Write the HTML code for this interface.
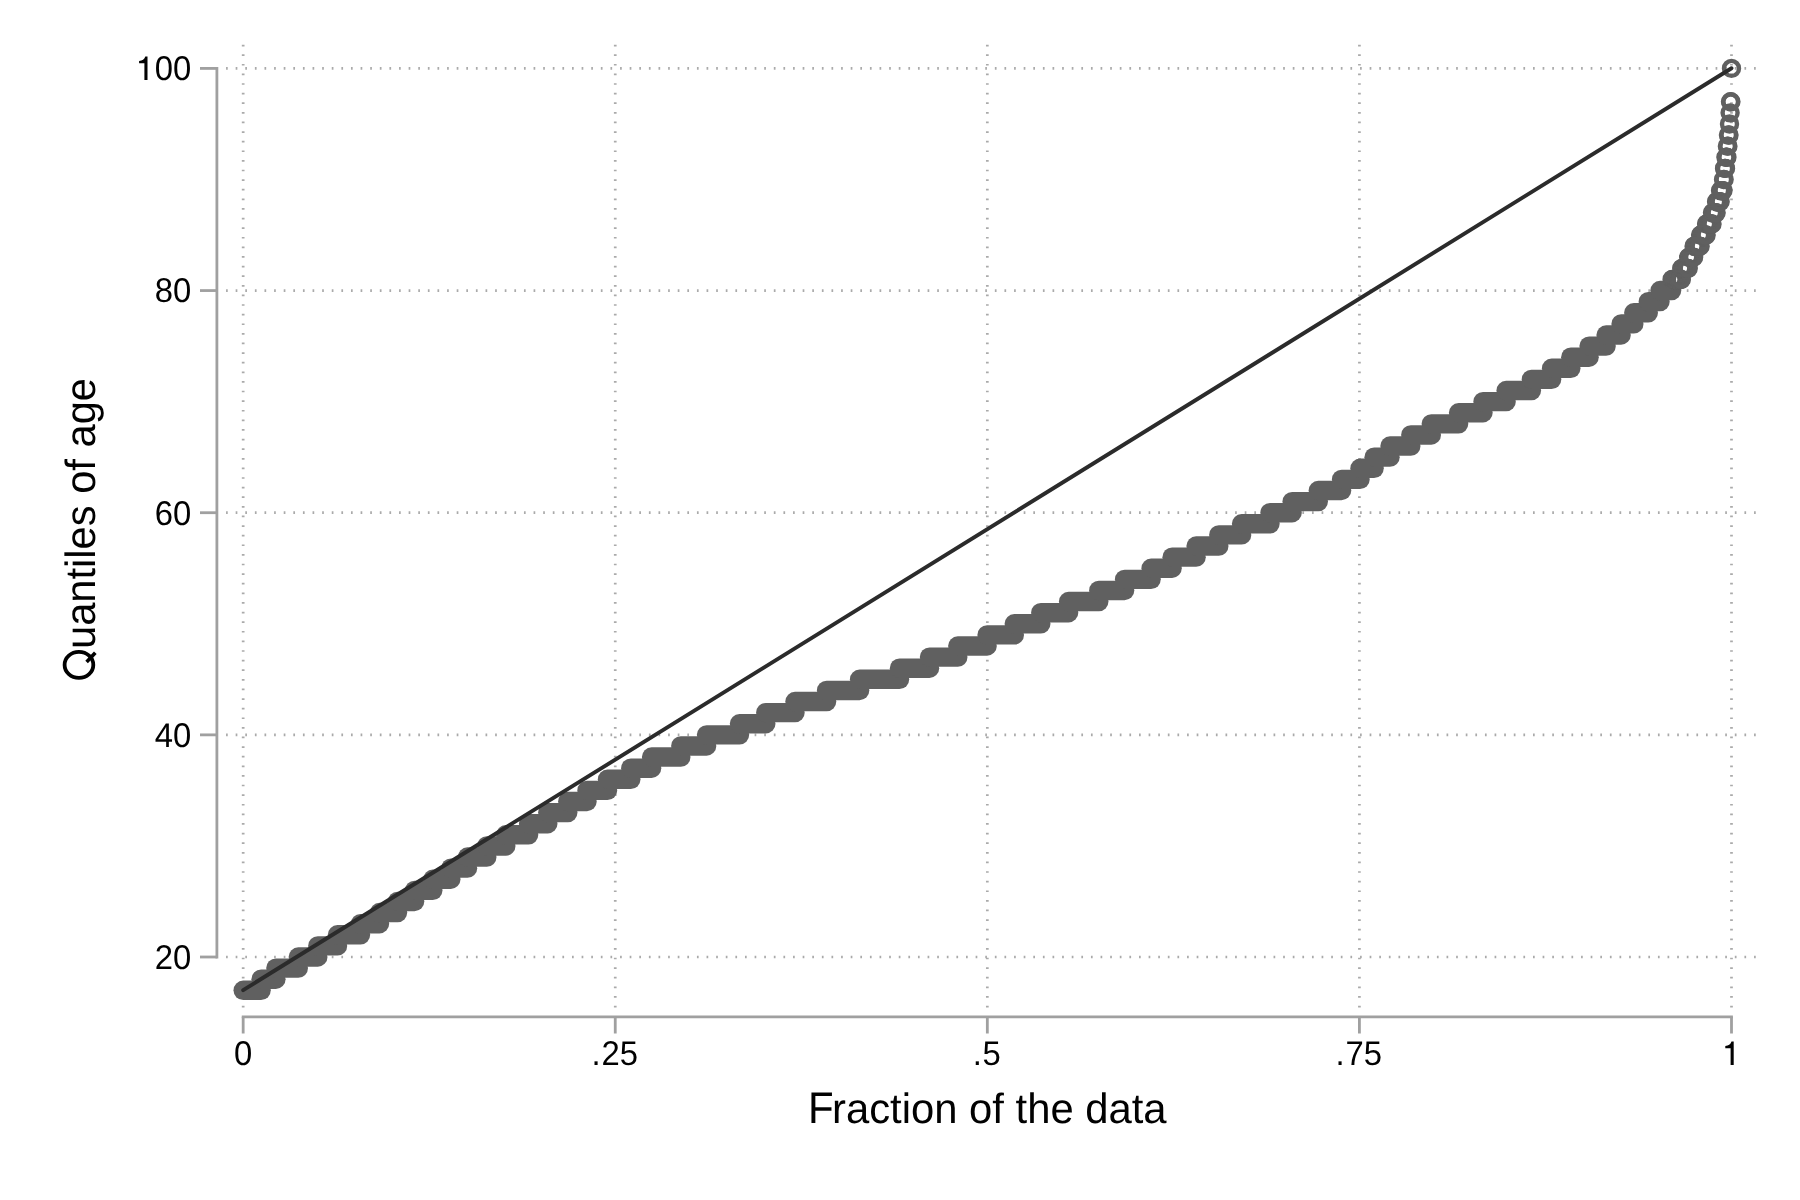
<!DOCTYPE html>
<html><head><meta charset="utf-8"><title>Quantile plot</title>
<style>html,body{margin:0;padding:0;background:#fff;}svg{display:block;}text{font-family:"Liberation Sans",sans-serif;fill:#000;text-rendering:geometricPrecision;}</style>
</head><body>
<svg width="1800" height="1200" viewBox="0 0 1800 1200">
<rect x="0" y="0" width="1800" height="1200" fill="#ffffff"/>
<g stroke="#aaaaaa" stroke-width="2.7" stroke-dasharray="1.7 7.91" fill="none">
<line x1="226.05" y1="957.00" x2="1758" y2="957.00"/>
<line x1="226.05" y1="734.86" x2="1758" y2="734.86"/>
<line x1="226.05" y1="512.71" x2="1758" y2="512.71"/>
<line x1="226.05" y1="290.57" x2="1758" y2="290.57"/>
<line x1="226.05" y1="68.42" x2="1758" y2="68.42"/>
<line x1="243.17" y1="44.7" x2="243.17" y2="1008"/>
<line x1="615.25" y1="44.7" x2="615.25" y2="1008"/>
<line x1="987.33" y1="44.7" x2="987.33" y2="1008"/>
<line x1="1359.42" y1="44.7" x2="1359.42" y2="1008"/>
<line x1="1731.50" y1="44.7" x2="1731.50" y2="1008"/>
</g>
<g stroke="#606060" fill="none" stroke-linecap="round">
<line x1="243.2" y1="990.32" x2="261.1" y2="990.32" stroke-width="19.4"/>
<line x1="261.1" y1="979.21" x2="275.9" y2="979.21" stroke-width="19.4"/>
<line x1="275.9" y1="968.11" x2="298.3" y2="968.11" stroke-width="19.4"/>
<line x1="298.3" y1="957.00" x2="317.8" y2="957.00" stroke-width="19.4"/>
<line x1="317.8" y1="945.89" x2="337.5" y2="945.89" stroke-width="19.4"/>
<line x1="337.5" y1="934.79" x2="360.5" y2="934.79" stroke-width="19.4"/>
<line x1="360.5" y1="923.68" x2="379.5" y2="923.68" stroke-width="19.4"/>
<line x1="379.5" y1="912.57" x2="397.5" y2="912.57" stroke-width="19.4"/>
<line x1="397.5" y1="901.46" x2="414.6" y2="901.46" stroke-width="19.4"/>
<line x1="414.6" y1="890.36" x2="432.8" y2="890.36" stroke-width="19.4"/>
<line x1="432.8" y1="879.25" x2="450.8" y2="879.25" stroke-width="19.4"/>
<line x1="450.8" y1="868.14" x2="467.5" y2="868.14" stroke-width="19.4"/>
<line x1="467.5" y1="857.03" x2="486.8" y2="857.03" stroke-width="19.4"/>
<line x1="486.8" y1="845.93" x2="505.8" y2="845.93" stroke-width="19.4"/>
<line x1="505.8" y1="834.82" x2="528.6" y2="834.82" stroke-width="19.4"/>
<line x1="528.6" y1="823.71" x2="547.8" y2="823.71" stroke-width="19.4"/>
<line x1="547.8" y1="812.61" x2="567.8" y2="812.61" stroke-width="19.4"/>
<line x1="567.8" y1="801.50" x2="587.0" y2="801.50" stroke-width="19.4"/>
<line x1="587.0" y1="790.39" x2="607.5" y2="790.39" stroke-width="19.4"/>
<line x1="607.5" y1="779.28" x2="630.8" y2="779.28" stroke-width="19.4"/>
<line x1="630.8" y1="768.18" x2="651.6" y2="768.18" stroke-width="19.4"/>
<line x1="651.6" y1="757.07" x2="680.8" y2="757.07" stroke-width="19.4"/>
<line x1="680.8" y1="745.96" x2="706.6" y2="745.96" stroke-width="19.4"/>
<line x1="706.6" y1="734.86" x2="739.5" y2="734.86" stroke-width="19.4"/>
<line x1="739.5" y1="723.75" x2="765.8" y2="723.75" stroke-width="19.4"/>
<line x1="765.8" y1="712.64" x2="795.0" y2="712.64" stroke-width="19.4"/>
<line x1="795.0" y1="701.53" x2="826.6" y2="701.53" stroke-width="19.4"/>
<line x1="826.6" y1="690.43" x2="859.6" y2="690.43" stroke-width="19.4"/>
<line x1="859.6" y1="679.32" x2="899.5" y2="679.32" stroke-width="19.4"/>
<line x1="899.5" y1="668.21" x2="929.5" y2="668.21" stroke-width="19.4"/>
<line x1="929.5" y1="657.10" x2="957.8" y2="657.10" stroke-width="19.4"/>
<line x1="957.8" y1="646.00" x2="987.1" y2="646.00" stroke-width="19.4"/>
<line x1="987.1" y1="634.89" x2="1014.3" y2="634.89" stroke-width="19.4"/>
<line x1="1014.3" y1="623.78" x2="1040.8" y2="623.78" stroke-width="19.4"/>
<line x1="1040.8" y1="612.68" x2="1068.6" y2="612.68" stroke-width="19.4"/>
<line x1="1068.6" y1="601.57" x2="1098.8" y2="601.57" stroke-width="19.4"/>
<line x1="1098.8" y1="590.46" x2="1124.6" y2="590.46" stroke-width="19.4"/>
<line x1="1124.6" y1="579.35" x2="1151.1" y2="579.35" stroke-width="19.4"/>
<line x1="1151.1" y1="568.25" x2="1172.1" y2="568.25" stroke-width="19.4"/>
<line x1="1172.1" y1="557.14" x2="1196.1" y2="557.14" stroke-width="19.4"/>
<line x1="1196.1" y1="546.03" x2="1218.8" y2="546.03" stroke-width="19.4"/>
<line x1="1218.8" y1="534.92" x2="1241.6" y2="534.92" stroke-width="19.4"/>
<line x1="1241.6" y1="523.82" x2="1270.0" y2="523.82" stroke-width="19.4"/>
<line x1="1270.0" y1="512.71" x2="1292.1" y2="512.71" stroke-width="19.4"/>
<line x1="1292.1" y1="501.60" x2="1318.3" y2="501.60" stroke-width="19.4"/>
<line x1="1318.3" y1="490.50" x2="1341.6" y2="490.50" stroke-width="19.4"/>
<line x1="1341.6" y1="479.39" x2="1360.0" y2="479.39" stroke-width="19.4"/>
<line x1="1360.0" y1="468.28" x2="1374.1" y2="468.28" stroke-width="19.4"/>
<line x1="1374.1" y1="457.17" x2="1390.0" y2="457.17" stroke-width="19.4"/>
<line x1="1390.0" y1="446.07" x2="1410.8" y2="446.07" stroke-width="19.4"/>
<line x1="1410.8" y1="434.96" x2="1431.3" y2="434.96" stroke-width="19.4"/>
<line x1="1431.3" y1="423.85" x2="1458.6" y2="423.85" stroke-width="19.4"/>
<line x1="1458.6" y1="412.74" x2="1483.0" y2="412.74" stroke-width="19.4"/>
<line x1="1483.0" y1="401.64" x2="1506.1" y2="401.64" stroke-width="19.4"/>
<line x1="1506.1" y1="390.53" x2="1531.4" y2="390.53" stroke-width="19.4"/>
<line x1="1531.4" y1="379.42" x2="1551.6" y2="379.42" stroke-width="19.4"/>
<line x1="1551.6" y1="368.32" x2="1570.8" y2="368.32" stroke-width="19.4"/>
<line x1="1570.8" y1="357.21" x2="1589.1" y2="357.21" stroke-width="19.4"/>
<line x1="1589.1" y1="346.10" x2="1606.1" y2="346.10" stroke-width="19.4"/>
<line x1="1606.1" y1="334.99" x2="1621.1" y2="334.99" stroke-width="19.4"/>
<line x1="1621.1" y1="323.89" x2="1633.8" y2="323.89" stroke-width="19.4"/>
<line x1="1633.8" y1="312.78" x2="1648.3" y2="312.78" stroke-width="19.4"/>
<line x1="1648.3" y1="301.67" x2="1660.0" y2="301.67" stroke-width="19.4"/>
<line x1="1660.0" y1="290.57" x2="1671.6" y2="290.57" stroke-width="19.4"/>
<circle cx="1672.11" cy="279.46" r="7.5" stroke-width="4.4"/>
<circle cx="1672.62" cy="279.46" r="7.5" stroke-width="4.4"/>
<circle cx="1673.13" cy="279.46" r="7.5" stroke-width="4.4"/>
<circle cx="1673.64" cy="279.46" r="7.5" stroke-width="4.4"/>
<circle cx="1674.15" cy="279.46" r="7.5" stroke-width="4.4"/>
<circle cx="1674.66" cy="279.46" r="7.5" stroke-width="4.4"/>
<circle cx="1675.17" cy="279.46" r="7.5" stroke-width="4.4"/>
<circle cx="1675.68" cy="279.46" r="7.5" stroke-width="4.4"/>
<circle cx="1676.19" cy="279.46" r="7.5" stroke-width="4.4"/>
<circle cx="1676.71" cy="279.46" r="7.5" stroke-width="4.4"/>
<circle cx="1677.22" cy="279.46" r="7.5" stroke-width="4.4"/>
<circle cx="1677.73" cy="279.46" r="7.5" stroke-width="4.4"/>
<circle cx="1678.24" cy="279.46" r="7.5" stroke-width="4.4"/>
<circle cx="1678.75" cy="279.46" r="7.5" stroke-width="4.4"/>
<circle cx="1679.26" cy="279.46" r="7.5" stroke-width="4.4"/>
<circle cx="1679.77" cy="279.46" r="7.5" stroke-width="4.4"/>
<circle cx="1680.28" cy="279.46" r="7.5" stroke-width="4.4"/>
<circle cx="1680.79" cy="279.46" r="7.5" stroke-width="4.4"/>
<circle cx="1681.30" cy="279.46" r="7.5" stroke-width="4.4"/>
<circle cx="1681.79" cy="268.35" r="7.5" stroke-width="4.4"/>
<circle cx="1682.29" cy="268.35" r="7.5" stroke-width="4.4"/>
<circle cx="1682.78" cy="268.35" r="7.5" stroke-width="4.4"/>
<circle cx="1683.27" cy="268.35" r="7.5" stroke-width="4.4"/>
<circle cx="1683.76" cy="268.35" r="7.5" stroke-width="4.4"/>
<circle cx="1684.26" cy="268.35" r="7.5" stroke-width="4.4"/>
<circle cx="1684.75" cy="268.35" r="7.5" stroke-width="4.4"/>
<circle cx="1685.24" cy="268.35" r="7.5" stroke-width="4.4"/>
<circle cx="1685.74" cy="268.35" r="7.5" stroke-width="4.4"/>
<circle cx="1686.23" cy="268.35" r="7.5" stroke-width="4.4"/>
<circle cx="1686.72" cy="268.35" r="7.5" stroke-width="4.4"/>
<circle cx="1687.21" cy="268.35" r="7.5" stroke-width="4.4"/>
<circle cx="1687.71" cy="268.35" r="7.5" stroke-width="4.4"/>
<circle cx="1688.20" cy="268.35" r="7.5" stroke-width="4.4"/>
<circle cx="1688.69" cy="257.24" r="7.5" stroke-width="4.4"/>
<circle cx="1689.18" cy="257.24" r="7.5" stroke-width="4.4"/>
<circle cx="1689.67" cy="257.24" r="7.5" stroke-width="4.4"/>
<circle cx="1690.16" cy="257.24" r="7.5" stroke-width="4.4"/>
<circle cx="1690.65" cy="257.24" r="7.5" stroke-width="4.4"/>
<circle cx="1691.15" cy="257.24" r="7.5" stroke-width="4.4"/>
<circle cx="1691.64" cy="257.24" r="7.5" stroke-width="4.4"/>
<circle cx="1692.13" cy="257.24" r="7.5" stroke-width="4.4"/>
<circle cx="1692.62" cy="257.24" r="7.5" stroke-width="4.4"/>
<circle cx="1693.11" cy="257.24" r="7.5" stroke-width="4.4"/>
<circle cx="1693.60" cy="257.24" r="7.5" stroke-width="4.4"/>
<circle cx="1694.10" cy="246.14" r="7.5" stroke-width="4.4"/>
<circle cx="1694.60" cy="246.14" r="7.5" stroke-width="4.4"/>
<circle cx="1695.10" cy="246.14" r="7.5" stroke-width="4.4"/>
<circle cx="1695.60" cy="246.14" r="7.5" stroke-width="4.4"/>
<circle cx="1696.10" cy="246.14" r="7.5" stroke-width="4.4"/>
<circle cx="1696.60" cy="246.14" r="7.5" stroke-width="4.4"/>
<circle cx="1697.10" cy="246.14" r="7.5" stroke-width="4.4"/>
<circle cx="1697.60" cy="246.14" r="7.5" stroke-width="4.4"/>
<circle cx="1698.10" cy="246.14" r="7.5" stroke-width="4.4"/>
<circle cx="1698.60" cy="246.14" r="7.5" stroke-width="4.4"/>
<circle cx="1699.10" cy="246.14" r="7.5" stroke-width="4.4"/>
<circle cx="1699.60" cy="246.14" r="7.5" stroke-width="4.4"/>
<circle cx="1700.10" cy="246.14" r="7.5" stroke-width="4.4"/>
<circle cx="1700.60" cy="235.03" r="7.5" stroke-width="4.4"/>
<circle cx="1701.10" cy="235.03" r="7.5" stroke-width="4.4"/>
<circle cx="1701.60" cy="235.03" r="7.5" stroke-width="4.4"/>
<circle cx="1702.10" cy="235.03" r="7.5" stroke-width="4.4"/>
<circle cx="1702.60" cy="235.03" r="7.5" stroke-width="4.4"/>
<circle cx="1703.10" cy="235.03" r="7.5" stroke-width="4.4"/>
<circle cx="1703.60" cy="235.03" r="7.5" stroke-width="4.4"/>
<circle cx="1704.10" cy="235.03" r="7.5" stroke-width="4.4"/>
<circle cx="1704.60" cy="235.03" r="7.5" stroke-width="4.4"/>
<circle cx="1705.10" cy="235.03" r="7.5" stroke-width="4.4"/>
<circle cx="1705.60" cy="235.03" r="7.5" stroke-width="4.4"/>
<circle cx="1706.10" cy="235.03" r="7.5" stroke-width="4.4"/>
<circle cx="1706.59" cy="223.92" r="7.5" stroke-width="4.4"/>
<circle cx="1707.08" cy="223.92" r="7.5" stroke-width="4.4"/>
<circle cx="1707.57" cy="223.92" r="7.5" stroke-width="4.4"/>
<circle cx="1708.07" cy="223.92" r="7.5" stroke-width="4.4"/>
<circle cx="1708.56" cy="223.92" r="7.5" stroke-width="4.4"/>
<circle cx="1709.05" cy="223.92" r="7.5" stroke-width="4.4"/>
<circle cx="1709.54" cy="223.92" r="7.5" stroke-width="4.4"/>
<circle cx="1710.03" cy="223.92" r="7.5" stroke-width="4.4"/>
<circle cx="1710.53" cy="223.92" r="7.5" stroke-width="4.4"/>
<circle cx="1711.02" cy="223.92" r="7.5" stroke-width="4.4"/>
<circle cx="1711.51" cy="223.92" r="7.5" stroke-width="4.4"/>
<circle cx="1712.00" cy="223.92" r="7.5" stroke-width="4.4"/>
<circle cx="1712.51" cy="212.81" r="7.5" stroke-width="4.4"/>
<circle cx="1713.03" cy="212.81" r="7.5" stroke-width="4.4"/>
<circle cx="1713.54" cy="212.81" r="7.5" stroke-width="4.4"/>
<circle cx="1714.05" cy="212.81" r="7.5" stroke-width="4.4"/>
<circle cx="1714.56" cy="212.81" r="7.5" stroke-width="4.4"/>
<circle cx="1715.07" cy="212.81" r="7.5" stroke-width="4.4"/>
<circle cx="1715.59" cy="212.81" r="7.5" stroke-width="4.4"/>
<circle cx="1716.10" cy="212.81" r="7.5" stroke-width="4.4"/>
<circle cx="1716.60" cy="201.71" r="7.5" stroke-width="4.4"/>
<circle cx="1717.10" cy="201.71" r="7.5" stroke-width="4.4"/>
<circle cx="1717.60" cy="201.71" r="7.5" stroke-width="4.4"/>
<circle cx="1718.10" cy="201.71" r="7.5" stroke-width="4.4"/>
<circle cx="1718.60" cy="201.71" r="7.5" stroke-width="4.4"/>
<circle cx="1719.10" cy="201.71" r="7.5" stroke-width="4.4"/>
<circle cx="1719.60" cy="201.71" r="7.5" stroke-width="4.4"/>
<circle cx="1720.10" cy="201.71" r="7.5" stroke-width="4.4"/>
<circle cx="1720.58" cy="190.60" r="7.5" stroke-width="4.4"/>
<circle cx="1721.07" cy="190.60" r="7.5" stroke-width="4.4"/>
<circle cx="1721.55" cy="190.60" r="7.5" stroke-width="4.4"/>
<circle cx="1722.03" cy="190.60" r="7.5" stroke-width="4.4"/>
<circle cx="1722.52" cy="190.60" r="7.5" stroke-width="4.4"/>
<circle cx="1723.00" cy="190.60" r="7.5" stroke-width="4.4"/>
<circle cx="1723.55" cy="179.49" r="7.5" stroke-width="4.4"/>
<circle cx="1724.10" cy="179.49" r="7.5" stroke-width="4.4"/>
<circle cx="1724.57" cy="168.39" r="7.5" stroke-width="4.4"/>
<circle cx="1725.03" cy="168.39" r="7.5" stroke-width="4.4"/>
<circle cx="1725.50" cy="168.39" r="7.5" stroke-width="4.4"/>
<circle cx="1725.97" cy="157.28" r="7.5" stroke-width="4.4"/>
<circle cx="1726.43" cy="157.28" r="7.5" stroke-width="4.4"/>
<circle cx="1726.90" cy="157.28" r="7.5" stroke-width="4.4"/>
<circle cx="1727.40" cy="146.17" r="7.5" stroke-width="4.4"/>
<circle cx="1727.90" cy="146.17" r="7.5" stroke-width="4.4"/>
<circle cx="1728.45" cy="135.06" r="7.5" stroke-width="4.4"/>
<circle cx="1729.00" cy="135.06" r="7.5" stroke-width="4.4"/>
<circle cx="1729.50" cy="123.96" r="7.5" stroke-width="4.4"/>
<circle cx="1730.10" cy="112.85" r="7.5" stroke-width="4.4"/>
<circle cx="1730.50" cy="101.74" r="7.5" stroke-width="4.4"/>
<circle cx="1730.90" cy="101.74" r="7.5" stroke-width="4.4"/>
<circle cx="1731.50" cy="68.42" r="7.5" stroke-width="4.4"/>
</g>
<line x1="243.17" y1="990.12" x2="1731.5" y2="68.22" stroke="#2b2b2b" stroke-width="3.9" stroke-linecap="round"/>
<g stroke="#a0a0a0" stroke-width="2.8" fill="none">
<path d="M216.9 67.02 V958.40"/>
<path d="M200 957.00 H216.9"/>
<path d="M200 734.86 H216.9"/>
<path d="M200 512.71 H216.9"/>
<path d="M200 290.57 H216.9"/>
<path d="M200 68.42 H216.9"/>
<path d="M241.77 1016.8 H1732.90"/>
<path d="M243.17 1016.8 V1033.5"/>
<path d="M615.25 1016.8 V1033.5"/>
<path d="M987.33 1016.8 V1033.5"/>
<path d="M1359.42 1016.8 V1033.5"/>
<path d="M1731.50 1016.8 V1033.5"/>
</g>
<g font-size="34.3" style="opacity:0.999">
<text transform="translate(191.2 968.90) scale(0.957 1)" text-anchor="end">20</text>
<text transform="translate(191.2 746.75) scale(0.957 1)" text-anchor="end">40</text>
<text transform="translate(191.2 524.61) scale(0.957 1)" text-anchor="end">60</text>
<text transform="translate(191.2 302.47) scale(0.957 1)" text-anchor="end">80</text>
<text transform="translate(191.2 80.32) scale(0.957 1)" text-anchor="end">00</text>
<path transform="translate(136.0 80.02)" d="M11.5,0H8.4V-16.7H3.1V-19.0C6.4,-19.3 8.2,-20.5 9.3,-23.5H11.5Z" fill="#000"/>
<text transform="translate(243.17 1065.2) scale(0.957 1)" text-anchor="middle">0</text>
<text transform="translate(615.25 1065.2) scale(0.957 1)" text-anchor="middle"><tspan dx="-0.6">.</tspan><tspan dx="0.9">25</tspan></text>
<text transform="translate(987.33 1065.2) scale(0.957 1)" text-anchor="middle"><tspan dx="-0.6">.</tspan><tspan dx="0.9">5</tspan></text>
<text transform="translate(1359.42 1065.2) scale(0.957 1)" text-anchor="middle"><tspan dx="-0.6">.</tspan><tspan dx="0.9">75</tspan></text>
<path transform="translate(1722.20 1064.9)" d="M11.5,0H8.4V-16.7H3.1V-19.0C6.4,-19.3 8.2,-20.5 9.3,-23.5H11.5Z" fill="#000"/>
</g>
<g font-size="42.3" style="opacity:0.999">
<text transform="translate(808.0 1122.9) scale(0.95 1)" font-size="44.2">F</text>
<text transform="translate(1166.6 1122.9) scale(0.988 1)" text-anchor="end">raction of the data</text>
<ellipse cx="78.95" cy="664.9" rx="14.35" ry="13.0" fill="none" stroke="#000" stroke-width="3.8"/>
<line x1="86.6" y1="662.0" x2="95.3" y2="652.7" stroke="#000" stroke-width="3.6"/>
<text transform="translate(94.8 378.0) rotate(-90) scale(0.985 1)" text-anchor="end">uantiles of age</text>
</g>
</svg></body></html>
